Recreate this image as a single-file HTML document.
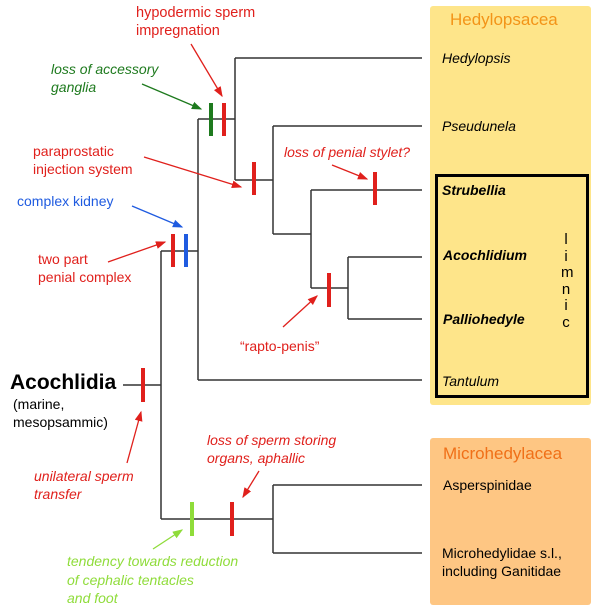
<!DOCTYPE html>
<html><head><style>
body{margin:0;width:600px;height:614px;background:#fff;position:relative;overflow:hidden;font-family:"Liberation Sans",sans-serif}
.t{position:absolute;font-size:14px;line-height:18px;white-space:nowrap}
.r{color:#e0201c}.g{color:#1e7a1e}.b{color:#1f5be0}.lg{color:#8fdc3a}.i{font-style:italic}
</style></head><body>
<div style="position:absolute;left:430px;top:6px;width:161px;height:399px;background:#fee58a;border-radius:3px"></div>
<div style="position:absolute;left:430px;top:438px;width:161px;height:167px;background:#fec683;border-radius:3px"></div>
<div style="position:absolute;left:435px;top:174px;width:148px;height:218px;border:3px solid #000"></div>
<svg width="600" height="614" style="position:absolute;left:0;top:0">
<g stroke="#333" stroke-width="1.5" fill="none">
<path d="M123 385H161M161 251V519M161 251H198M198 119V380M198 380H422M198 119H235M235 58V180M235 58H422M235 180H273M273 126V234M273 126H422M273 234H311M311 190V288M311 190H422M311 288H348M348 257V319M348 257H422M348 319H422M161 519H273M273 485V553M273 485H422M273 553H422"/>
</g>
<g stroke-width="4">
<line x1="143" y1="368" x2="143" y2="402" stroke="#e0201c"/>
<line x1="173" y1="234" x2="173" y2="267" stroke="#e0201c"/>
<line x1="186" y1="234" x2="186" y2="267" stroke="#1f5be0"/>
<line x1="211" y1="103" x2="211" y2="136" stroke="#1e7a1e"/>
<line x1="224" y1="103" x2="224" y2="136" stroke="#e0201c"/>
<line x1="254" y1="162" x2="254" y2="195" stroke="#e0201c"/>
<line x1="375" y1="172" x2="375" y2="205" stroke="#e0201c"/>
<line x1="329" y1="273" x2="329" y2="307" stroke="#e0201c"/>
<line x1="192" y1="502" x2="192" y2="536" stroke="#8fdc3a"/>
<line x1="232" y1="502" x2="232" y2="536" stroke="#e0201c"/>
</g>
<defs>
<marker id="ar" markerWidth="8" markerHeight="8" refX="7" refY="4" orient="auto"><path d="M0,1L8,4L0,7z" fill="#e0201c"/></marker>
<marker id="ag" markerWidth="8" markerHeight="8" refX="7" refY="4" orient="auto"><path d="M0,1L8,4L0,7z" fill="#1e7a1e"/></marker>
<marker id="ab" markerWidth="8" markerHeight="8" refX="7" refY="4" orient="auto"><path d="M0,1L8,4L0,7z" fill="#1f5be0"/></marker>
<marker id="al" markerWidth="8" markerHeight="8" refX="7" refY="4" orient="auto"><path d="M0,1L8,4L0,7z" fill="#8fdc3a"/></marker>
</defs>
<g stroke-width="1.3">
<line x1="191" y1="44" x2="222" y2="96" stroke="#e0201c" marker-end="url(#ar)"/>
<line x1="142" y1="84" x2="201" y2="109" stroke="#1e7a1e" marker-end="url(#ag)"/>
<line x1="144" y1="157" x2="241" y2="187" stroke="#e0201c" marker-end="url(#ar)"/>
<line x1="132" y1="206" x2="182" y2="227" stroke="#1f5be0" marker-end="url(#ab)"/>
<line x1="108" y1="262" x2="165" y2="242" stroke="#e0201c" marker-end="url(#ar)"/>
<line x1="332" y1="165" x2="367" y2="179" stroke="#e0201c" marker-end="url(#ar)"/>
<line x1="283" y1="327" x2="317" y2="296" stroke="#e0201c" marker-end="url(#ar)"/>
<line x1="127" y1="463" x2="141" y2="412" stroke="#e0201c" marker-end="url(#ar)"/>
<line x1="259" y1="471" x2="243" y2="497" stroke="#e0201c" marker-end="url(#ar)"/>
<line x1="153" y1="549" x2="182" y2="530" stroke="#8fdc3a" marker-end="url(#al)"/>
</g>
</svg>
<div class="t r" style="left:136px;top:4px;font-size:14.5px">hypodermic sperm<br>impregnation</div>
<div class="t g i" style="left:51px;top:60px">loss of accessory<br>ganglia</div>
<div class="t r" style="left:33px;top:142px">paraprostatic<br>injection system</div>
<div class="t b" style="left:17px;top:192px">complex kidney</div>
<div class="t r" style="left:38px;top:250px">two part<br>penial complex</div>
<div class="t r i" style="left:284px;top:143px">loss of penial stylet?</div>
<div class="t r" style="left:240px;top:337px">“rapto-penis”</div>
<div class="t" style="left:10px;top:371px;font-size:21px;font-weight:bold;line-height:24px">Acochlidia</div>
<div class="t" style="left:13px;top:395px;font-size:14px">(marine,<br>mesopsammic)</div>
<div class="t r i" style="left:34px;top:467px">unilateral sperm<br>transfer</div>
<div class="t r i" style="left:207px;top:431px">loss of sperm storing<br>organs, aphallic</div>
<div class="t lg i" style="left:67px;top:552px;line-height:18.5px">tendency towards reduction<br>of cephalic tentacles<br>and foot</div>
<div class="t" style="left:450px;top:10px;font-size:17px;color:#f39418;line-height:20px">Hedylopsacea</div>
<div class="t i" style="left:442px;top:49px">Hedylopsis</div>
<div class="t i" style="left:442px;top:117px">Pseudunela</div>
<div class="t i" style="left:442px;top:181px;font-weight:bold">Strubellia</div>
<div class="t i" style="left:443px;top:246px;font-weight:bold">Acochlidium</div>
<div class="t i" style="left:443px;top:310px;font-weight:bold">Palliohedyle</div>
<div class="t i" style="left:442px;top:372px">Tantulum</div>
<div class="t" style="left:561px;top:232px;font-size:15px;line-height:16.5px;text-align:center;width:10px">l<br>i<br>m<br>n<br>i<br>c</div>
<div class="t" style="left:443px;top:444px;font-size:17px;color:#f07018;line-height:20px">Microhedylacea</div>
<div class="t" style="left:443px;top:476px">Asperspinidae</div>
<div class="t" style="left:442px;top:544px">Microhedylidae s.l.,<br>including Ganitidae</div>
</body></html>
